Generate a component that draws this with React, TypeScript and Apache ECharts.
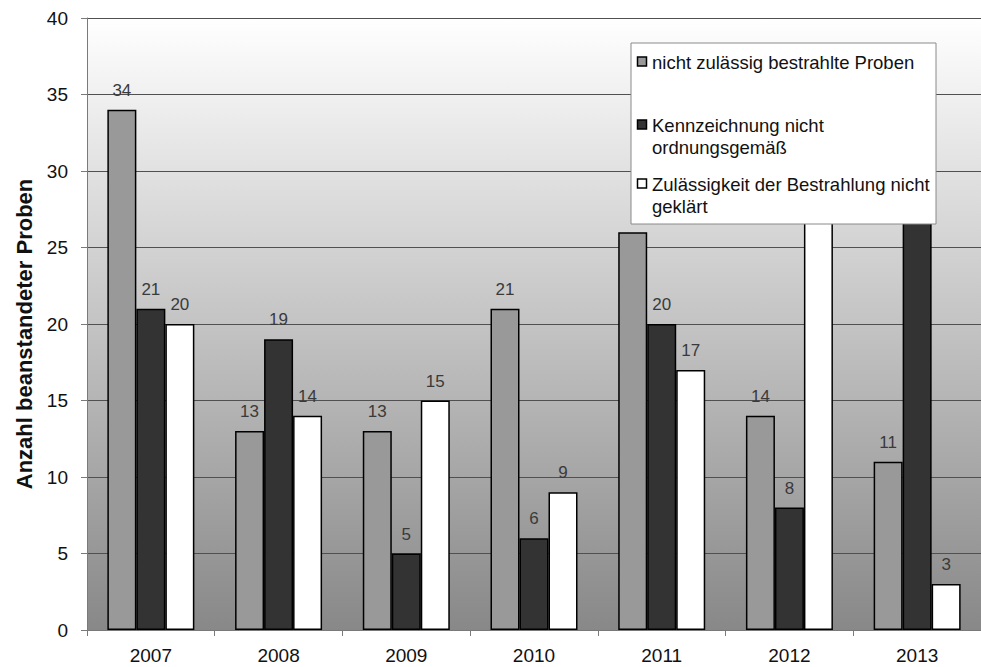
import React, { useEffect, useRef } from "react";
import * as echarts from "echarts";

const years = ["2007", "2008", "2009", "2010", "2011", "2012", "2013"];
const nichtZulaessig = [34, 13, 13, 21, 26, 14, 11];
const kennzeichnung = [21, 19, 5, 6, 20, 8, 27];
const zulaessigkeitUngeklaert = [20, 14, 15, 9, 17, 29, 3];

const seriesNames = [
  "nicht zulässig bestrahlte Proben",
  "Kennzeichnung nicht ordnungsgemäß",
  "Zulässigkeit der Bestrahlung nicht geklärt",
];
const legendLines = [
  ["nicht zulässig bestrahlte Proben"],
  ["Kennzeichnung nicht", "ordnungsgemäß"],
  ["Zulässigkeit der Bestrahlung nicht", "geklärt"],
];
// value labels that sit underneath the legend box are not drawn
const labelHidden = [
  [false, false, false, false, true, false, false],
  [false, false, false, false, false, false, true],
  [false, false, false, false, false, true, false],
];
const barColors = ["#999999", "#333333", "#ffffff"];
const yTicks = [0, 5, 10, 15, 20, 25, 30, 35, 40];

const FONT = "'Liberation Sans', Arial, sans-serif";

export default function App() {
  const ref = useRef<HTMLDivElement>(null);

  useEffect(() => {
    if (!ref.current) return;
    const chart = echarts.init(ref.current, undefined, { renderer: "svg" });

    const seriesData = [nichtZulaessig, kennzeichnung, zulaessigkeitUngeklaert];

    const legendTop = 43;
    const itemRows = [62, 125, 184];
    const lineHeight = 22.5;
    const legendGraphics: any[] = [
      {
        type: "rect",
        z: 100,
        shape: { x: 631, y: legendTop, width: 305, height: 181 },
        style: { fill: "#ffffff", stroke: "#8a8a8a", lineWidth: 1 },
      },
    ];
    legendLines.forEach((lines, i) => {
      legendGraphics.push({
        type: "rect",
        z: 101,
        shape: { x: 637.5, y: itemRows[i] - 5, width: 9, height: 9 },
        style: { fill: barColors[i], stroke: "#000000", lineWidth: 1.5 },
      });
      lines.forEach((ln, j) => {
        legendGraphics.push({
          type: "text",
          z: 101,
          x: 652,
          y: itemRows[i] + j * lineHeight,
          style: {
            text: ln,
            fill: "#111111",
            font: `18.5px ${FONT}`,
            textVerticalAlign: "middle",
            textAlign: "left",
          },
        });
      });
    });

    chart.setOption({
      animation: false,
      backgroundColor: "#ffffff",
      textStyle: { fontFamily: FONT },
      grid: {
        left: 87,
        right: -10,
        top: 18,
        bottom: 37,
        show: true,
        borderWidth: 0,
        backgroundColor: {
          type: "linear",
          x: 0,
          y: 0,
          x2: 0,
          y2: 1,
          colorStops: [
            { offset: 0, color: "#ffffff" },
            { offset: 1, color: "#888888" },
          ],
        },
      },
      xAxis: {
        type: "category",
        data: years,
        axisLine: { show: true, lineStyle: { color: "#7a7a7a", width: 1 } },
        axisTick: { show: true, length: 6, lineStyle: { color: "#7a7a7a" } },
        axisLabel: { fontSize: 19, color: "#111111", margin: 16, fontFamily: FONT },
      },
      yAxis: {
        type: "value",
        min: yTicks[0],
        max: yTicks[yTicks.length - 1],
        interval: 5,
        name: "Anzahl beanstandeter Proben",
        nameLocation: "middle",
        nameGap: 50,
        nameTextStyle: {
          fontSize: 22,
          fontWeight: "bold",
          color: "#111111",
          fontFamily: FONT,
          padding: [0, 20, 0, 0],
        },
        axisLine: { show: true, lineStyle: { color: "#7a7a7a", width: 1 } },
        axisTick: { show: true, length: 6, lineStyle: { color: "#7a7a7a" } },
        axisLabel: { fontSize: 19, color: "#111111", margin: 19, fontFamily: FONT },
        splitLine: { show: true, lineStyle: { color: "#505050", width: 1 } },
      },
      series: seriesNames.map((name, i) => ({
        type: "bar",
        name,
        data: seriesData[i].map((v, k) =>
          labelHidden[i][k] ? { value: v, label: { show: false } } : v
        ),
        barWidth: 29,
        barGap: "0%",
        itemStyle: { color: barColors[i], borderColor: "#000000", borderWidth: 1.5 },
        label: {
          show: true,
          position: "top",
          distance: 11,
          fontSize: 17,
          color: "#3a3a3a",
          fontFamily: FONT,
        },
      })),
      graphic: legendGraphics,
    });

    return () => chart.dispose();
  }, []);

  return (
    <div
      ref={ref}
      style={{ position: "fixed", left: 0, top: 0, width: 981, height: 667, overflow: "hidden" }}
    />
  );
}
